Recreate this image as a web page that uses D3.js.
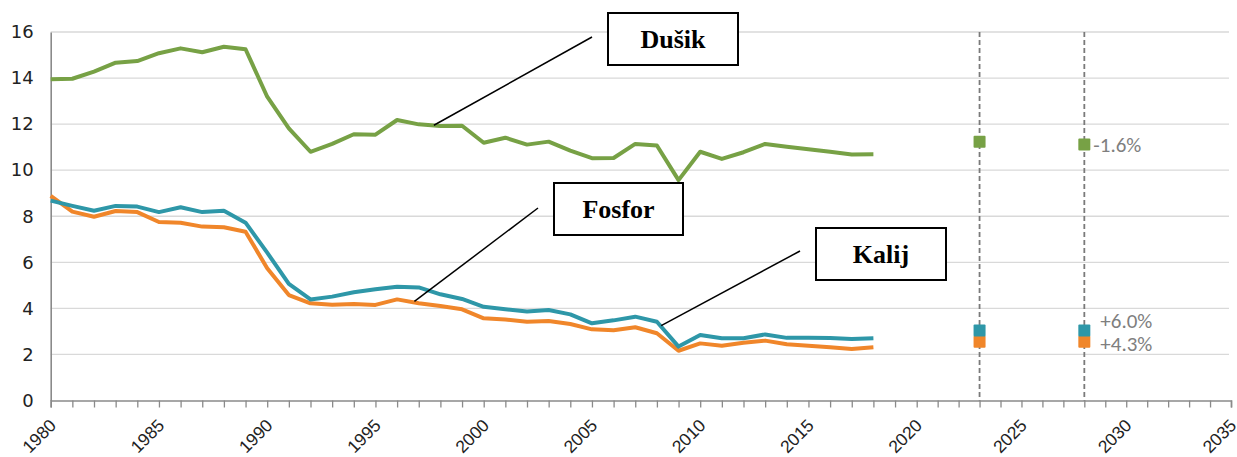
<!DOCTYPE html>
<html><head><meta charset="utf-8">
<script src="https://cdn.jsdelivr.net/npm/d3@7/dist/d3.min.js"></script>
<style>body{margin:0;background:#fff;} svg{display:block;}</style>
</head><body><svg id="chart" width="1237" height="457"></svg>
<script>
// ---- data ----
const years = [1980,1981,1982,1983,1984,1985,1986,1987,1988,1989,
               1990,1991,1992,1993,1994,1995,1996,1997,1998,1999,
               2000,2001,2002,2003,2004,2005,2006,2007,2008,2009,
               2010,2011,2012,2013,2014,2015,2016,2017,2018];
const dusik  = [13.95,13.97,14.28,14.67,14.74,15.08,15.29,15.12,15.36,15.25,
                13.19,11.82,10.80,11.14,11.56,11.54,12.18,11.99,11.92,11.93,
                11.19,11.41,11.11,11.24,10.85,10.52,10.53,11.14,11.07,9.57,
                10.80,10.49,10.78,11.14,11.02,10.91,10.80,10.68,10.69];
const kalij  = [8.68,8.45,8.24,8.45,8.42,8.18,8.39,8.18,8.24,7.72,
                6.42,5.06,4.39,4.51,4.70,4.83,4.94,4.91,4.61,4.41,
                4.07,3.96,3.86,3.93,3.74,3.35,3.48,3.64,3.42,2.34,
                2.84,2.70,2.70,2.87,2.72,2.72,2.71,2.67,2.70];
const fosfor = [8.88,8.20,7.98,8.23,8.18,7.75,7.72,7.55,7.52,7.33,
                5.74,4.58,4.22,4.16,4.19,4.15,4.39,4.22,4.10,3.96,
                3.57,3.52,3.42,3.45,3.32,3.09,3.05,3.18,2.92,2.16,
                2.48,2.38,2.51,2.60,2.44,2.38,2.31,2.24,2.31];
const projYears   = [2023, 2028];
const dusikProj   = [11.24, 11.12];
const kalijProj   = [3.04, 3.04];
const fosforProj  = [2.55, 2.55];
const projLabels  = ["-1.6%", "+6.0%", "+4.3%"];
const yTicks = [0,2,4,6,8,10,12,14,16];
const xTickYears = [1980,1981,1982,1983,1984,1985,1986,1987,1988,1989,1990,1991,1992,1993,1994,1995,1996,1997,1998,1999,
  2000,2001,2002,2003,2004,2005,2006,2007,2008,2009,2010,2011,2012,2013,2014,2015,2016,2017,2018,2019,
  2020,2021,2022,2023,2024,2025,2026,2027,2028,2029,2030,2031,2032,2033,2034,2035];
const seriesNames = ["Dušik", "Fosfor", "Kalij"];

// ---- styles / layout ----
const colors = {dusik:"#77a145", kalij:"#2e97a8", fosfor:"#f0862a"};
const svg = d3.select("#chart");
const x = d3.scaleLinear().domain([1980, 2020, 2035]).range([50.7, 916.7, 1231]);
const y = d3.scaleLinear().domain([0, 16]).range([400.5, 32]);

// gridlines
svg.append("g").selectAll("line").data(yTicks.filter(d => d > 0)).join("line")
  .attr("x1", x(1980)).attr("x2", 1229)
  .attr("y1", d => y(d)).attr("y2", d => y(d))
  .attr("stroke", "#d9d9d9").attr("stroke-width", 1.3);

// y axis
const yAxis = svg.append("g").attr("transform", `translate(${x(1980)},0)`)
  .call(d3.axisLeft(y).tickValues(yTicks).tickSize(0).tickPadding(17));
yAxis.select(".domain").attr("stroke", "#8a8a8a").attr("stroke-width", 1.6);
yAxis.selectAll("text").attr("font-family", "DejaVu Sans, Verdana, sans-serif")
  .attr("font-size", 18).attr("fill", "#222");

// x axis
const xAxis = svg.append("g").attr("transform", `translate(0,${y(0)})`)
  .call(d3.axisBottom(x).tickValues(xTickYears).tickSize(7)
    .tickFormat(d => d % 5 === 0 ? String(d) : ""));
xAxis.select(".domain").attr("stroke", "#8a8a8a").attr("stroke-width", 1.6);
xAxis.selectAll(".tick line").attr("stroke", "#8a8a8a").attr("stroke-width", 1.3);
xAxis.selectAll("text").attr("font-family", "Liberation Sans, Arial, sans-serif")
  .attr("font-size", 17.5).attr("fill", "#222")
  .attr("text-anchor", "end").attr("dy", null).attr("y", 0)
  .attr("transform", "translate(6,26) rotate(-45)");

// dashed projection lines
svg.append("g").selectAll("line").data(projYears).join("line")
  .attr("x1", d => x(d)).attr("x2", d => x(d))
  .attr("y1", y(16)).attr("y2", y(0))
  .attr("stroke", "#7a7a7a").attr("stroke-width", 1.8).attr("stroke-dasharray", "5,3");

// lines
const line = d3.line().x((d, i) => x(years[i])).y(d => y(d));
[[dusik, colors.dusik], [fosfor, colors.fosfor], [kalij, colors.kalij]].forEach(([s, c]) => {
  svg.append("path").datum(s).attr("d", line).attr("fill", "none")
    .attr("stroke", c).attr("stroke-width", 4).attr("stroke-linejoin", "round");
});

// projection markers
const sq = 12;
[[dusikProj, colors.dusik], [fosforProj, colors.fosfor], [kalijProj, colors.kalij]].forEach(([s, c]) => {
  svg.append("g").selectAll("rect").data(s).join("rect")
    .attr("x", (d, i) => x(projYears[i]) - sq / 2).attr("y", d => y(d) - sq / 2)
    .attr("width", sq).attr("height", sq).attr("rx", 1).attr("fill", c);
});

// projection labels
const lblFont = "Carlito, 'Open Sans', sans-serif";
const projLabelVals = [dusikProj[1], kalijProj[1] + 0.42, fosforProj[1] - 0.08];
svg.append("g").selectAll("text").data(projLabels).join("text")
  .attr("x", (d, i) => x(projYears[1]) + (i === 0 ? 9 : 16))
  .attr("y", (d, i) => y(projLabelVals[i])).attr("dy", "0.35em")
  .attr("font-family", lblFont).attr("font-size", 21).attr("fill", "#7f7f7f")
  .text(d => d);

// annotation callouts
const callouts = [
  {name: seriesNames[0], box: [608, 13, 130, 52], from: [592, 37], year: 1997.7, val: 11.95},
  {name: seriesNames[1], box: [554, 183, 129, 52], from: [538, 208], year: 1996.8, val: 4.30},
  {name: seriesNames[2], box: [816, 228, 130, 52], from: [800, 251], year: 2008.2, val: 3.25}
];
const cg = svg.append("g");
callouts.forEach(c => {
  cg.append("line").attr("x1", c.from[0]).attr("y1", c.from[1])
    .attr("x2", x(c.year)).attr("y2", y(c.val))
    .attr("stroke", "#000").attr("stroke-width", 1.5);
  cg.append("rect").attr("x", c.box[0]).attr("y", c.box[1])
    .attr("width", c.box[2]).attr("height", c.box[3])
    .attr("fill", "#fff").attr("stroke", "#000").attr("stroke-width", 2);
  cg.append("text").attr("x", c.box[0] + c.box[2] / 2).attr("y", c.box[1] + c.box[3] / 2)
    .attr("dy", "0.35em").attr("text-anchor", "middle")
    .attr("font-family", "Liberation Serif, 'Times New Roman', serif")
    .attr("font-weight", "bold").attr("font-size", 26).attr("fill", "#000")
    .text(c.name);
});
</script></body></html>
